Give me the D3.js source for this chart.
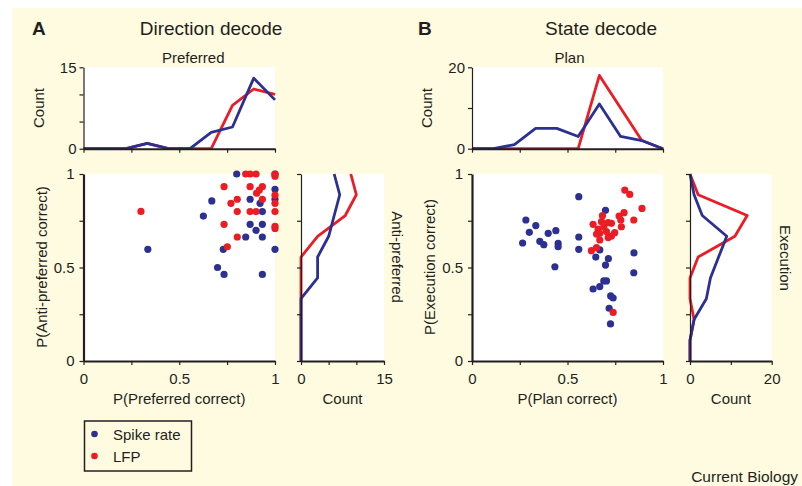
<!DOCTYPE html>
<html>
<head>
<meta charset="utf-8">
<script src="https://cdn.jsdelivr.net/npm/d3@7"></script>
<style>
  body { margin: 0; background: #fff; }
  svg text { font-family: "Liberation Sans", Arial, Helvetica, sans-serif; fill: #231f20; }
</style>
</head>
<body>
<script>
// bin centres shared by all four histograms
const bins = [0, 0.111, 0.222, 0.333, 0.444, 0.556, 0.667, 0.778, 0.889, 1];

// A - direction decode
const prefSpike = [0, 0, 0, 1, 0, 0, 3, 4, 13, 9];
const prefLfp   = [0, 0, 0, 1, 0, 0, 0, 8, 11, 10];
const antiSpike = [0, 0, 0, 0, 3, 3, 5, 6, 7, 6];
const antiLfp   = [0, 0, 0, 0, 0, 0, 3, 8, 10, 9];

// B - state decode
const planSpike = [0, 0, 1, 5, 5, 3, 11, 3, 2, 0];
const planLfp   = [0, 0, 0, 0, 0, 0, 18, 10, 2, 0];
const execSpike = [0, 0, 1, 4, 5, 7, 9, 3, 1, 0];
const execLfp   = [0, 0, 1, 0, 0, 2, 11, 14, 2, 0];

// scatter points [P(x correct), P(y correct)]
const dirSpikePts = [
  [0.8, 1.0], [0.67, 0.856], [0.626, 0.775], [0.336, 0.597], [0.73, 0.597],
  [0.70, 0.50], [0.734, 0.463], [0.847, 0.663], [0.87, 0.731], [0.87, 0.865],
  [0.901, 0.699], [0.922, 0.843], [0.934, 0.799], [0.934, 0.731], [0.934, 0.663],
  [0.934, 0.463], [1.0, 0.918], [1.0, 0.865], [1.0, 0.597], [1.0, 1.0]
];
const dirLfpPts = [
  [0.30, 0.80], [0.734, 0.932], [0.734, 0.731], [0.751, 0.611], [0.77, 0.843],
  [0.803, 0.865], [0.803, 0.799], [0.803, 0.663], [0.847, 1.0], [0.87, 1.0],
  [0.901, 1.0], [0.87, 0.932], [0.87, 0.799], [0.901, 0.799], [0.904, 0.897],
  [0.918, 0.914], [0.934, 0.932], [0.934, 0.865], [1.0, 1.0], [1.0, 0.988],
  [1.0, 0.887], [1.0, 0.843], [1.0, 0.799], [1.0, 0.709], [1.0, 0.72]
];
const stateSpikePts = [
  [0.282, 0.754], [0.265, 0.631], [0.30, 0.688], [0.334, 0.724], [0.355, 0.640],
  [0.376, 0.622], [0.399, 0.683], [0.439, 0.697], [0.451, 0.629], [0.451, 0.611],
  [0.434, 0.504], [0.559, 0.879], [0.559, 0.663], [0.559, 0.597], [0.699, 0.806],
  [0.669, 0.594], [0.648, 0.556], [0.714, 0.547], [0.699, 0.513], [0.634, 0.385],
  [0.669, 0.398], [0.69, 0.428], [0.704, 0.428], [0.726, 0.348], [0.739, 0.337],
  [0.718, 0.282], [0.725, 0.198], [0.848, 0.578], [0.847, 0.472]
];
const stateLfpPts = [
  [0.625, 0.590], [0.652, 0.606], [0.739, 0.260], [0.634, 0.731], [0.66, 0.706],
  [0.669, 0.683], [0.669, 0.647], [0.683, 0.777], [0.69, 0.718], [0.704, 0.692],
  [0.713, 0.740], [0.73, 0.736], [0.713, 0.660], [0.73, 0.668], [0.747, 0.686],
  [0.77, 0.775], [0.782, 0.718], [0.796, 0.793], [0.779, 0.754], [0.80, 0.914],
  [0.826, 0.891], [0.847, 0.754], [0.89, 0.816], [0.652, 0.679], [0.678, 0.745]
];

// ticks
const fracTicks = [0, 0.25, 0.5, 0.75, 1];
const fracLabels = [0, 0.5, 1];
const countTicksA = [0, 5, 10, 15];
const countTicksB = [0, 10, 20];

const blue = '#2b3092';
const red = '#ec1c24';
const ink = '#231f20';

const svg = d3.select('body').append('svg')
  .attr('width', 802)
  .attr('height', 486);

svg.append('rect')
  .attr('x', 12).attr('y', 8)
  .attr('width', 790).attr('height', 478)
  .attr('fill', '#fffbe0');

function styleAxis(g, domainWidth) {
  g.select('.domain').attr('stroke', ink).attr('stroke-width', domainWidth);
  g.selectAll('.tick line').attr('stroke', ink).attr('stroke-width', 1.2);
  g.selectAll('.tick text').attr('font-size', 15).attr('fill', ink)
    .style('font-family', '"Liberation Sans", Arial, sans-serif');
}

function labelOnly(values) {
  return d => values.includes(d) ? d3.format('~g')(d) : '';
}

function makePanel(p) {
  const x = d3.scaleLinear().domain([0, 1]).range([p.x0, p.x1]);
  const y = d3.scaleLinear().domain([0, 1]).range([361, 174]);
  const hy = d3.scaleLinear().domain([0, p.max]).range([148.7, 67.3]);
  const hx = d3.scaleLinear().domain([0, p.max]).range([p.h0, p.h1]);
  const countLabels = [0, p.max];

  // white plot areas
  svg.append('rect').attr('x', p.x0).attr('y', 67.3)
    .attr('width', p.x1 - p.x0).attr('height', 148.7 - 67.3).attr('fill', '#fff');
  svg.append('rect').attr('x', p.x0).attr('y', 174)
    .attr('width', p.x1 - p.x0).attr('height', 187).attr('fill', '#fff');
  svg.append('rect').attr('x', p.h0).attr('y', 174)
    .attr('width', p.h1 - p.h0).attr('height', 187).attr('fill', '#fff');

  /* TOP HISTOGRAM */
  const topLine = d3.line().x((d, i) => x(bins[i])).y(d => hy(d));
  [[p.topLfp, red], [p.topSpike, blue]].forEach(([vals, col]) => {
    svg.append('path').datum(vals)
      .attr('d', topLine)
      .attr('fill', 'none').attr('stroke', col)
      .attr('stroke-width', 2.8).attr('stroke-linejoin', 'round');
  });
  svg.append('g').attr('transform', 'translate(0,148.7)')
    .call(d3.axisBottom(x).tickValues(fracTicks).tickFormat('').tickSize(4).tickSizeOuter(0))
    .call(g => styleAxis(g, 2));
  svg.append('g').attr('transform', `translate(${p.x0},0)`)
    .call(d3.axisLeft(hy).tickValues(p.countTicks).tickFormat(labelOnly(countLabels)).tickSize(4).tickPadding(3).tickSizeOuter(0))
    .call(g => styleAxis(g, 1.2));

  /* SIDE HISTOGRAM */
  const sideLine = d3.line().x(d => hx(d)).y((d, i) => y(bins[i]));
  [[p.sideLfp, red], [p.sideSpike, blue]].forEach(([vals, col]) => {
    svg.append('path').datum(vals)
      .attr('d', sideLine)
      .attr('fill', 'none').attr('stroke', col)
      .attr('stroke-width', 2.8).attr('stroke-linejoin', 'round');
  });
  svg.append('g').attr('transform', 'translate(0,361)')
    .call(d3.axisBottom(hx).tickValues(p.countTicks).tickFormat(labelOnly(countLabels)).tickSize(4).tickPadding(8).tickSizeOuter(0))
    .call(g => styleAxis(g, 2));
  svg.append('g').attr('transform', `translate(${p.h0},0)`)
    .call(d3.axisLeft(y).tickValues(fracTicks).tickFormat('').tickSize(4).tickSizeOuter(0))
    .call(g => styleAxis(g, 1.2));

  /* SCATTER */
  [[p.spikePts, blue], [p.lfpPts, red]].forEach(([pts, col]) => {
    svg.append('g').selectAll('circle')
      .data(pts)
      .enter()
      .append('circle')
      .attr('cx', d => x(d[0]))
      .attr('cy', d => y(d[1]))
      .attr('r', 3.6)
      .attr('fill', col);
  });
  svg.append('g').attr('transform', 'translate(0,361)')
    .call(d3.axisBottom(x).tickValues(fracTicks).tickFormat(labelOnly(fracLabels)).tickSize(4).tickPadding(8).tickSizeOuter(0))
    .call(g => styleAxis(g, 2.2));
  svg.append('g').attr('transform', `translate(${p.x0},0)`)
    .call(d3.axisLeft(y).tickValues(fracTicks).tickFormat(labelOnly(fracLabels)).tickSize(4).tickPadding(5).tickSizeOuter(0))
    .call(g => styleAxis(g, 2.2));

  /* TEXTS */
  svg.append('text').attr('x', p.letterX).attr('y', 35)
    .attr('font-size', 19).attr('font-weight', 'bold').text(p.letter);
  svg.append('text').attr('x', p.titleX).attr('y', 35)
    .attr('font-size', 19).attr('text-anchor', 'middle').text(p.title);
  svg.append('text').attr('x', (p.x0 + p.x1) / 2 + p.topShift).attr('y', 63)
    .attr('font-size', 15).attr('text-anchor', 'middle').text(p.topTitle);
  svg.append('text').attr('transform', `translate(${p.x0 - 40},108) rotate(-90)`)
    .attr('font-size', 15).attr('text-anchor', 'middle').text('Count');
  svg.append('text').attr('transform', `translate(${p.x0 - 37},267) rotate(-90)`)
    .attr('font-size', 15).attr('text-anchor', 'middle').text(p.yLabel);
  svg.append('text').attr('x', (p.x0 + p.x1) / 2).attr('y', 404)
    .attr('font-size', 15).attr('text-anchor', 'middle').text(p.xLabel);
  svg.append('text').attr('x', (p.h0 + p.h1) / 2).attr('y', 404)
    .attr('font-size', 15).attr('text-anchor', 'middle').text('Count');
  svg.append('text').attr('transform', `translate(${p.h1 + 8},${p.sideY}) rotate(90)`)
    .attr('font-size', 15).attr('text-anchor', 'middle').text(p.sideTitle);
}

makePanel({
  x0: 83.5, x1: 275, h0: 301, h1: 384, max: 15, countTicks: countTicksA,
  topSpike: prefSpike, topLfp: prefLfp, sideSpike: antiSpike, sideLfp: antiLfp,
  spikePts: dirSpikePts, lfpPts: dirLfpPts,
  letter: 'A', letterX: 32, title: 'Direction decode', titleX: 211,
  topTitle: 'Preferred', topShift: 14, sideTitle: 'Anti-preferred', sideY: 257,
  xLabel: 'P(Preferred correct)', yLabel: 'P(Anti-preferred correct)'
});

makePanel({
  x0: 472, x1: 663, h0: 690, h1: 771.7, max: 20, countTicks: countTicksB,
  topSpike: planSpike, topLfp: planLfp, sideSpike: execSpike, sideLfp: execLfp,
  spikePts: stateSpikePts, lfpPts: stateLfpPts,
  letter: 'B', letterX: 418, title: 'State decode', titleX: 601,
  topTitle: 'Plan', topShift: 2, sideTitle: 'Execution', sideY: 258,
  xLabel: 'P(Plan correct)', yLabel: 'P(Execution correct)'
});

/* LEGEND */
const legend = svg.append('g');
legend.append('rect')
  .attr('x', 84.5).attr('y', 421).attr('width', 107).attr('height', 50)
  .attr('fill', 'none').attr('stroke', ink).attr('stroke-width', 1.5);
[['Spike rate', blue, 434], ['LFP', red, 456]].forEach(([name, col, cy]) => {
  legend.append('circle').attr('cx', 94.5).attr('cy', cy).attr('r', 3.3).attr('fill', col);
  legend.append('text').attr('x', 113).attr('y', cy + 6).attr('font-size', 15).text(name);
});

svg.append('text').attr('x', 798).attr('y', 482)
  .attr('font-size', 15.5).attr('text-anchor', 'end').text('Current Biology');
</script>
</body>
</html>
